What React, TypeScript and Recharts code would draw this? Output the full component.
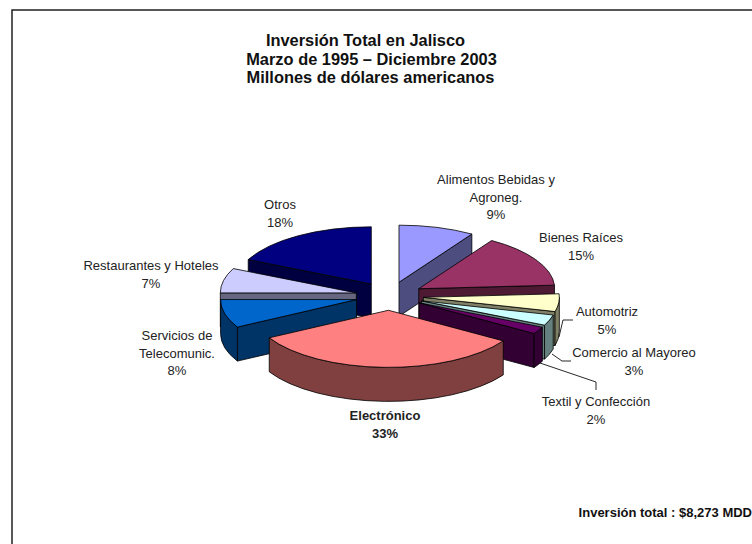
import { Pie, PieChart } from "recharts";

const categories = [
  "Alimentos Bebidas y Agroneg.",
  "Bienes Raíces",
  "Automotriz",
  "Comercio al Mayoreo",
  "Textil y Confección",
  "Electrónico",
  "Servicios de Telecomunic.",
  "Restaurantes y Hoteles",
  "Otros",
];
const shares = [9, 15, 5, 3, 2, 33, 8, 7, 18];
const topColors = ["#9999FF", "#993366", "#FFFFCC", "#CCFFFF", "#660066", "#FF8080", "#0066CC", "#CCCCFF", "#000080"];
const sideColors = ["#4D4D80", "#4D1933", "#808066", "#668080", "#330033", "#804040", "#003366", "#666680", "#000040"];

// back slices are painted first so the front ones can overlap them
const paintOrder = [0, 8, 1, 7, 2, 6, 3, 4, 5];

const titleLines = ["Inversión Total en Jalisco", "Marzo de 1995 – Diciembre 2003", "Millones de dólares americanos"];
const titleCenters = [365.5, 371.5, 370.5];
const titleBaselines = [46, 64.5, 83];
const footnote = "Inversión total : $8,273 MDD";

const labelLines = [
  ["Alimentos Bebidas y", "Agroneg.", "9%"],
  ["Bienes Raíces", "15%"],
  ["Automotriz", "5%"],
  ["Comercio al Mayoreo", "3%"],
  ["Textil y Confección", "2%"],
  ["Electrónico", "33%"],
  ["Servicios de", "Telecomunic.", "8%"],
  ["Restaurantes y Hoteles", "7%"],
  ["Otros", "18%"],
];
const labelAnchors = [
  [496, 184],
  [581, 242],
  [607, 316],
  [634, 357],
  [596, 406],
  [385, 420],
  [177, 340],
  [151, 270],
  [280, 209],
];
const leaderLines = [
  "559,337 563,320 573,320",
  "552,354 562,361 571,361",
  "540,363 596,382 596,390",
];

const WIDTH = 752;
const HEIGHT = 544;
const TILT = 0.42;
const DEPTH = 34;
const EXPLODE = 34;
const LINE_GAP = 17.6;
const FONT = "Liberation Sans, Arial, sans-serif";

const pieData = categories.map((name, i) => ({
  name,
  value: shares[i],
  fill: topColors[i],
  side: sideColors[i],
}));

function Slice3D(props: any) {
  const { cx, cy, outerRadius: r, startAngle, endAngle, fill, side } = props;
  const ry = r * TILT;
  const rad = (a: number) => (a * Math.PI) / 180;
  const mid = rad((startAngle + endAngle) / 2);
  const ax = cx + EXPLODE * Math.cos(mid);
  const ay = cy - EXPLODE * TILT * Math.sin(mid);
  const pt = (a: number): [number, number] => [ax + r * Math.cos(rad(a)), ay - ry * Math.sin(rad(a))];

  const [sx, sy] = pt(startAngle);
  const [ex, ey] = pt(endAngle);
  const wallProps = { fill: side, stroke: "#000", strokeWidth: 0.8, strokeLinejoin: "round" as const };
  const radialWall = (x: number, y: number) =>
    `M${ax},${ay} L${x},${y} L${x},${y + DEPTH} L${ax},${ay + DEPTH} Z`;

  // outer wall only exists on the part of the rim facing the viewer
  const arcFrom = Math.min(startAngle, 0);
  const arcTo = Math.max(endAngle, -180);
  let rim = null;
  if (arcFrom > arcTo) {
    const [fx, fy] = pt(arcFrom);
    const [tx, ty] = pt(arcTo);
    rim = `M${fx},${fy} A${r},${ry} 0 0 1 ${tx},${ty} L${tx},${ty + DEPTH} A${r},${ry} 0 0 0 ${fx},${fy + DEPTH} Z`;
  }

  return (
    <g>
      {sx < ax && <path d={radialWall(sx, sy)} {...wallProps} />}
      {ex > ax && <path d={radialWall(ex, ey)} {...wallProps} />}
      {rim && <path d={rim} {...wallProps} />}
      <path
        d={`M${ax},${ay} L${sx},${sy} A${r},${ry} 0 0 1 ${ex},${ey} Z`}
        fill={fill}
        stroke="#000"
        strokeWidth={0.8}
        strokeLinejoin="round"
      />
    </g>
  );
}

export default function App() {
  return (
    <div style={{ position: "absolute", left: 0, top: 0, width: WIDTH, height: HEIGHT, background: "#fff" }}>
      <PieChart width={WIDTH} height={HEIGHT} margin={{ top: 0, right: 0, bottom: 0, left: 0 }}>
        <rect x={12} y={10} width={WIDTH + 20} height={HEIGHT + 20} fill="none" stroke="#111" strokeWidth={1.4} />

        {paintOrder.map((idx) => (
          <Pie
            key={categories[idx]}
            data={pieData}
            dataKey="value"
            nameKey="name"
            cx={389.5}
            cy={296}
            outerRadius={136}
            startAngle={90}
            endAngle={-270}
            isAnimationActive={false}
            stroke="none"
            shape={(p: any) => (p.name === categories[idx] ? <Slice3D {...p} /> : <g />)}
          />
        ))}

        {titleLines.map((line, i) => (
          <text
            key={line}
            x={titleCenters[i]}
            y={titleBaselines[i]}
            textAnchor="middle"
            fontFamily={FONT}
            fontSize={16.4}
            fontWeight="bold"
            fill="#111"
          >
            {line}
          </text>
        ))}

        {labelLines.map((lines, i) =>
          lines.map((line, j) => (
            <text
              key={line}
              x={labelAnchors[i][0]}
              y={labelAnchors[i][1] + j * LINE_GAP}
              textAnchor="middle"
              fontFamily={FONT}
              fontSize={13}
              fontWeight={categories[i] === "Electrónico" ? "bold" : "normal"}
              fill="#222"
            >
              {line}
            </text>
          )),
        )}

        {leaderLines.map((points) => (
          <polyline key={points} points={points} fill="none" stroke="#111" strokeWidth={0.9} />
        ))}

        <text x={752} y={517} textAnchor="end" fontFamily={FONT} fontSize={13} fontWeight="bold" fill="#111">
          {footnote}
        </text>
      </PieChart>
    </div>
  );
}
